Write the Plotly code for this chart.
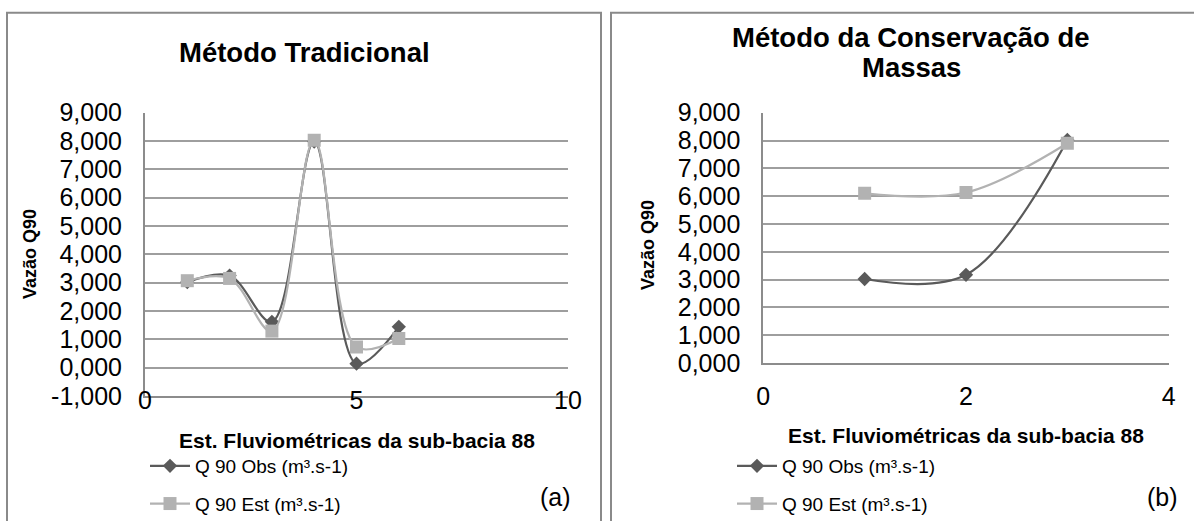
import plotly.graph_objects as go

W, H = 1194, 521

# ---------------- data ----------------
stations_a = [1, 2, 3, 4, 5, 6]
q90_obs_a = [3.02, 3.25, 1.62, 7.98, 0.14, 1.44]
q90_est_a = [3.07, 3.15, 1.29, 8.03, 0.73, 1.03]

stations_b = [1, 2, 3]
q90_obs_b = [3.02, 3.17, 8.02]
q90_est_b = [6.10, 6.13, 7.90]

y_ticks_a = [-1, 0, 1, 2, 3, 4, 5, 6, 7, 8, 9]
y_labels_a = ["-1,000", "0,000", "1,000", "2,000", "3,000", "4,000",
              "5,000", "6,000", "7,000", "8,000", "9,000"]
y_ticks_b = [0, 1, 2, 3, 4, 5, 6, 7, 8, 9]
y_labels_b = ["0,000", "1,000", "2,000", "3,000", "4,000",
              "5,000", "6,000", "7,000", "8,000", "9,000"]
x_ticks_a = [0, 5, 10]
x_labels_a = ["0", "5", "10"]
x_ticks_b = [0, 2, 4]
x_labels_b = ["0", "2", "4"]

series_names = ["Q 90 Obs (m³.s-1)", "Q 90 Est (m³.s-1)"]
title_a = "Método Tradicional"
title_b_lines = ["Método da Conservação de", "Massas"]
panel_tags = ["(a)", "(b)"]
x_title = "Est. Fluviométricas da sub-bacia 88"
y_title = "Vazão Q90"

# ---------------- styles ----------------
FONT = "Liberation Sans, Arial, sans-serif"
OBS_COLOR = "#5a5a5a"
EST_COLOR = "#b2b2b2"
GRID = "#9e9e9e"
AXIS = "#8c8c8c"
BORDER = "#8a8a8a"


def px(p):
    return p / W


def py(p):
    return 1 - p / H


fig = go.Figure()

panels = [
    (stations_a, q90_obs_a, q90_est_a, "x", "y", "legend"),
    (stations_b, q90_obs_b, q90_est_b, "x2", "y2", "legend2"),
]
for i, (xs, obs, est, xa, ya, lg) in enumerate(panels):
    fig.add_trace(go.Scatter(
        x=xs, y=obs, name=series_names[0], xaxis=xa, yaxis=ya, legend=lg,
        legendgroup=f"obs{i}", mode="lines+markers",
        line=dict(color=OBS_COLOR, width=2.25, shape="spline", smoothing=1.0),
        marker=dict(symbol="diamond", size=11, color=OBS_COLOR)))
    fig.add_trace(go.Scatter(
        x=xs, y=est, name=series_names[1], xaxis=xa, yaxis=ya, legend=lg,
        legendgroup=f"est{i}", mode="lines+markers",
        line=dict(color=EST_COLOR, width=2.25, shape="spline", smoothing=1.0),
        marker=dict(symbol="square", size=13, color=EST_COLOR)))

tickfont = dict(family=FONT, size=25, color="black")

common_x = dict(showgrid=False, zeroline=False, showline=True, linecolor=AXIS,
                linewidth=2, ticks="", tickfont=tickfont, tickmode="array",
                automargin=False)
common_y = dict(showgrid=True, gridcolor=GRID, gridwidth=2, zeroline=False,
                showline=True, linecolor=AXIS, linewidth=2, ticks="",
                tickfont=tickfont, tickmode="array", ticklabelstandoff=16,
                automargin=False)

legend_common = dict(xanchor="left", yanchor="top", xref="container",
                     yref="container",
                     font=dict(family=FONT, size=19, color="black"),
                     traceorder="grouped", tracegroupgap=10, itemwidth=40,
                     bgcolor="rgba(0,0,0,0)")

fig.update_layout(
    template="none",
    width=W, height=H, autosize=False,
    margin=dict(l=0, r=0, t=0, b=0, pad=0, autoexpand=False),
    paper_bgcolor="white", plot_bgcolor="white",
    font=dict(family=FONT, color="black"),
    xaxis=dict(common_x, domain=[px(145), px(568)], range=[0, 10],
               tickvals=x_ticks_a, ticktext=x_labels_a, anchor="y",
               ticklabelstandoff=-19),
    yaxis=dict(common_y, domain=[py(396), py(112.7)], range=[-1, 9],
               tickvals=y_ticks_a, ticktext=y_labels_a, anchor="x"),
    xaxis2=dict(common_x, domain=[px(763.3), px(1168.7)], range=[0, 4],
                tickvals=x_ticks_b, ticktext=x_labels_b, anchor="y2",
                ticklabelstandoff=10),
    yaxis2=dict(common_y, domain=[py(363), py(112.7)], range=[0, 9],
                tickvals=y_ticks_b, ticktext=y_labels_b, anchor="x2"),
    legend=dict(legend_common, x=px(145), y=py(447)),
    legend2=dict(legend_common, x=px(732), y=py(447)),
    showlegend=True,
)

# panel borders
fig.add_shape(type="rect", xref="paper", yref="paper",
              x0=px(7), x1=px(601), y0=py(12.7), y1=py(540),
              line=dict(color=BORDER, width=2), fillcolor="rgba(0,0,0,0)")
fig.add_shape(type="rect", xref="paper", yref="paper",
              x0=px(611), x1=px(1215), y0=py(12.7), y1=py(540),
              line=dict(color=BORDER, width=2), fillcolor="rgba(0,0,0,0)")

ann = []
ann.append(dict(text=f"<b>{title_a}</b>", x=px(304), y=py(52),
                font=dict(size=27.5)))
ann.append(dict(text=f"<b>{title_b_lines[0]}</b>", x=px(911), y=py(37.5),
                font=dict(size=27.5)))
ann.append(dict(text=f"<b>{title_b_lines[1]}</b>", x=px(911), y=py(68),
                font=dict(size=27.5)))
ann.append(dict(text=f"<b>{x_title}</b>", x=px(356.5), y=py(440),
                font=dict(size=21)))
ann.append(dict(text=f"<b>{x_title}</b>", x=px(966), y=py(435),
                font=dict(size=21)))
ann.append(dict(text=f"<b>{y_title}</b>", x=px(30), y=py(254),
                textangle=-90, font=dict(size=18)))
ann.append(dict(text=f"<b>{y_title}</b>", x=px(648), y=py(245),
                textangle=-90, font=dict(size=18)))
ann.append(dict(text=panel_tags[0], x=px(555), y=py(497), font=dict(size=25)))
ann.append(dict(text=panel_tags[1], x=px(1162), y=py(497), font=dict(size=25)))

for a in ann:
    a.update(xref="paper", yref="paper", xanchor="center", yanchor="middle",
             showarrow=False)
    a["font"].update(family=FONT, color="black")
fig.update_layout(annotations=ann)

fig.write_html(
    "out.html",
    config={"displayModeBar": False},
    post_script="document.body.style.margin='0';"
                "document.body.style.overflow='hidden';",
)
